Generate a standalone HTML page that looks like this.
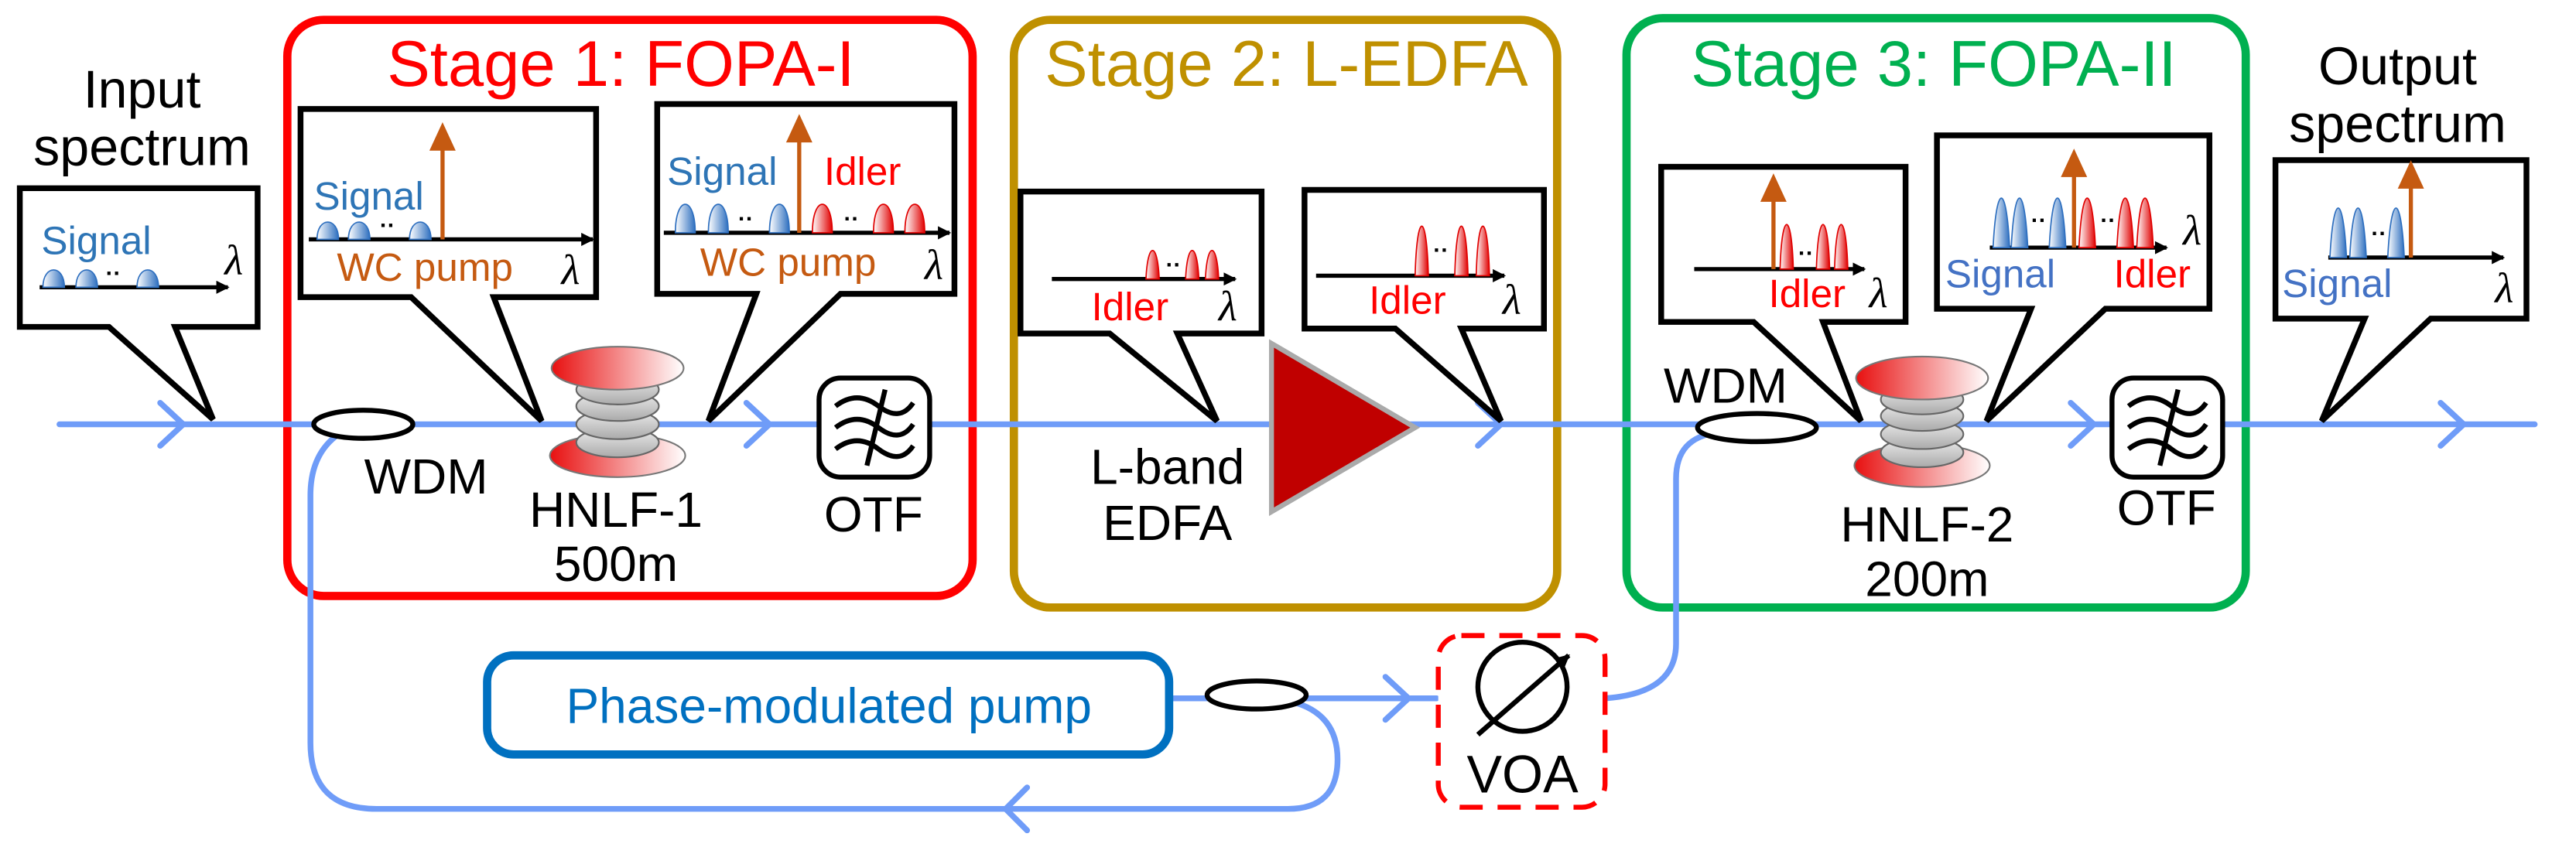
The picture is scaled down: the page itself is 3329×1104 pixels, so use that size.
<!DOCTYPE html>
<html><head><meta charset="utf-8"><style>
html,body{margin:0;padding:0;background:#fff;}
svg{display:block;}
text{font-family:"Liberation Sans",sans-serif;}
.b{fill:#2e75b6}.b2{fill:#4472c4}.o{fill:#c55a11}.r{fill:#ff0000}.k{fill:#000}
.lam{font-family:"Liberation Serif",serif;font-style:italic;}
</style></head><body>
<svg width="3329" height="1104" viewBox="0 0 1560 517.3" xmlns="http://www.w3.org/2000/svg">
<defs>
<linearGradient id="gb" x1="0" x2="1"><stop offset="0" stop-color="#fff"/><stop offset="1" stop-color="#2e6fbf"/></linearGradient>
<linearGradient id="gr" x1="0" x2="1"><stop offset="0" stop-color="#fff"/><stop offset="1" stop-color="#e00000"/></linearGradient>
<linearGradient id="gs" x1="0" x2="1"><stop offset="0" stop-color="#e81010"/><stop offset="1" stop-color="#fff"/></linearGradient>
<linearGradient id="gg" x1="0" x2="0" y1="0" y2="1"><stop offset="0" stop-color="#eee"/><stop offset="1" stop-color="#aaa"/></linearGradient>
<marker id="ak" markerWidth="8" markerHeight="8" refX="7" refY="4" orient="auto" markerUnits="userSpaceOnUse"><path d="M0,0 L8,4 L0,8 Z" fill="#000"/></marker>
</defs>

<rect x="174" y="12" width="415" height="349" rx="22" fill="none" stroke="#ff0000" stroke-width="5"/>
<rect x="614" y="12" width="329" height="356" rx="22" fill="none" stroke="#bf9000" stroke-width="5"/>
<rect x="985" y="11" width="375" height="357" rx="22" fill="none" stroke="#00b050" stroke-width="5"/>
<text x="376" y="52" font-size="39" fill="#ff0000" text-anchor="middle">Stage 1: FOPA-I</text>
<text x="779" y="52" font-size="39" fill="#bf9000" text-anchor="middle">Stage 2: L-EDFA</text>
<text x="1171" y="52" font-size="39" fill="#00b050" text-anchor="middle">Stage 3: FOPA-II</text>

<g stroke="#6f9cf8" stroke-width="3.5" fill="none" stroke-linecap="round">
<line x1="36" y1="257" x2="1535" y2="257"/>
<path d="M205,263 Q188,275 188,300 L188,450 Q188,490 228,490 L780,490 Q810,490 810,460 Q810,432 782,425"/>
<line x1="708" y1="423" x2="870" y2="423"/>
<path d="M972,423 Q1015,420 1015,390 L1015,290 Q1015,265 1040,262"/>
<path d="M97,244 L111,257 L97,270"/>
<path d="M452,244 L466,257 L452,270"/>
<path d="M895,244 L909,257 L895,270"/>
<path d="M1254,244 L1268,257 L1254,270"/>
<path d="M1478,244 L1492,257 L1478,270"/>
<path d="M839,410 L853,423 L839,436"/>
<path d="M622,477 L609,490 L622,503"/>
</g>

<ellipse cx="220" cy="257" rx="30" ry="8.5" fill="#fff" stroke="#000" stroke-width="3"/>
<ellipse cx="1064" cy="259" rx="36" ry="8.5" fill="#fff" stroke="#000" stroke-width="3"/>
<ellipse cx="761" cy="421" rx="30" ry="8.5" fill="#fff" stroke="#000" stroke-width="3"/>
<text x="258" y="299" font-size="30" class="k" text-anchor="middle">WDM</text>
<text x="1045" y="244" font-size="30" class="k" text-anchor="middle">WDM</text>

<g id="sp1">
<ellipse cx="374" cy="276" rx="41" ry="13" fill="url(#gs)" stroke="#777" stroke-width="1"/>
<g fill="url(#gg)" stroke="#666" stroke-width="1">
<ellipse cx="374" cy="268" rx="25" ry="9"/><ellipse cx="374" cy="257" rx="25" ry="9"/><ellipse cx="374" cy="246" rx="25" ry="9"/><ellipse cx="374" cy="236" rx="25" ry="9"/></g>
<ellipse cx="374" cy="223" rx="40" ry="13" fill="url(#gs)" stroke="#777" stroke-width="1"/>
</g>
<use href="#sp1" x="790" y="6"/>
<text x="373" y="319" font-size="30" class="k" text-anchor="middle">HNLF-1</text>
<text x="373" y="352" font-size="30" class="k" text-anchor="middle">500m</text>
<text x="1167" y="328" font-size="30" class="k" text-anchor="middle">HNLF-2</text>
<text x="1167" y="361" font-size="30" class="k" text-anchor="middle">200m</text>

<g fill="none" stroke="#000" stroke-width="3">
<rect x="496" y="229" width="67" height="60" rx="13" fill="#fff"/>
<path d="M506,246 Q519,236 532,246 T553,244 M506,259 Q519,249 532,259 T553,257 M506,272 Q519,262 532,272 T553,270 M536,236 L525,282"/>
<rect x="1279" y="229" width="67" height="60" rx="13" fill="#fff"/>
<path d="M1289,246 Q1302,236 1315,246 T1336,244 M1289,259 Q1302,249 1315,259 T1336,257 M1289,272 Q1302,262 1315,272 T1336,270 M1319,236 L1308,282"/>
</g>
<text x="529" y="322" font-size="30" class="k" text-anchor="middle">OTF</text>
<text x="1312" y="318" font-size="30" class="k" text-anchor="middle">OTF</text>

<polygon points="770,208 770,310 857,259" fill="#c00000" stroke="#aaa" stroke-width="3"/>
<text x="707" y="293" font-size="30" class="k" text-anchor="middle">L-band</text>
<text x="707" y="327" font-size="30" class="k" text-anchor="middle">EDFA</text>

<rect x="295" y="397" width="413" height="60" rx="16" fill="#fff" stroke="#0070c0" stroke-width="5"/>
<text x="502" y="438" font-size="30" fill="#0070c0" text-anchor="middle">Phase-modulated pump</text>

<rect x="871" y="385" width="101" height="104" rx="14" fill="#fff" stroke="#ff0000" stroke-width="3" stroke-dasharray="14,9"/>
<circle cx="922" cy="416" r="27" fill="none" stroke="#000" stroke-width="3"/>
<line x1="895" y1="445" x2="950" y2="397" stroke="#000" stroke-width="3" marker-end="url(#ak)"/>
<text x="922" y="480" font-size="32" class="k" text-anchor="middle">VOA</text>

<text x="86" y="65" font-size="32" class="k" text-anchor="middle">Input</text>
<text x="86" y="100" font-size="32" class="k" text-anchor="middle">spectrum</text>
<text x="1452" y="51" font-size="32" class="k" text-anchor="middle">Output</text>
<text x="1452" y="86" font-size="32" class="k" text-anchor="middle">spectrum</text>

<g fill="#fff" stroke="#000" stroke-width="3.5" stroke-linejoin="miter">
<polygon points="12,114 156,114 156,198 106,198 129,254 66,198 12,198"/>
<polygon points="182,66 361,66 361,180 299,180 328,255 249,180 182,180"/>
<polygon points="398,63 578,63 578,178 509,178 429,255 458,178 398,178"/>
<polygon points="618,116 764,116 764,202 713,202 737,255 672,202 618,202"/>
<polygon points="790,115 935,115 935,199 885,199 909,255 845,199 790,199"/>
<polygon points="1006,101 1154,101 1154,195 1104,195 1127,255 1062,195 1006,195"/>
<polygon points="1173,82 1338,82 1338,187 1275,187 1203,255 1230,187 1173,187"/>
<polygon points="1378,97 1530,97 1530,193 1472,193 1406,255 1432,193 1378,193"/>
</g>

<g stroke="#000" stroke-width="2.5" fill="none">
<line x1="24" y1="174" x2="138" y2="174" marker-end="url(#ak)"/>
<line x1="187" y1="145" x2="359" y2="145" marker-end="url(#ak)"/>
<line x1="402" y1="141" x2="575" y2="141" marker-end="url(#ak)"/>
<line x1="637" y1="169" x2="748" y2="169" marker-end="url(#ak)"/>
<line x1="797" y1="167" x2="911" y2="167" marker-end="url(#ak)"/>
<line x1="1026" y1="163" x2="1129" y2="163" marker-end="url(#ak)"/>
<line x1="1205" y1="150" x2="1312" y2="150" marker-end="url(#ak)"/>
<line x1="1410" y1="156" x2="1516" y2="156" marker-end="url(#ak)"/>
</g>
<g stroke="#c55a11" stroke-width="2.5" fill="#c55a11">
<line x1="268" y1="145" x2="268" y2="88"/><path d="M262,90 L268,77 L274,90Z"/>
<line x1="484" y1="141" x2="484" y2="83"/><path d="M478,85 L484,72 L490,85Z"/>
<line x1="1074" y1="163" x2="1074" y2="119"/><path d="M1068,121 L1074,108 L1080,121Z"/>
<line x1="1256" y1="150" x2="1256" y2="104"/><path d="M1250,106 L1256,93 L1262,106Z"/>
<line x1="1460" y1="156" x2="1460" y2="111"/><path d="M1454,113 L1460,100 L1466,113Z"/>
</g>
<g stroke="#2e6fbf" stroke-width="0.8" fill="url(#gb)">
<path d="M26,174 C26,160 39,160 39,174Z"/><path d="M46,174 C46,160 59,160 59,174Z"/><path d="M83,174 C83,160 96,160 96,174Z"/>
<path d="M192,145 C192,131 205,131 205,145Z"/><path d="M211,145 C211,131 224,131 224,145Z"/><path d="M248,145 C248,131 261,131 261,145Z"/>
<path d="M409,141 C409,118 421,118 421,141Z"/><path d="M429,141 C429,118 441,118 441,141Z"/><path d="M466,141 C466,118 478,118 478,141Z"/>
<path d="M1207,150 C1209,110 1215,110 1217,150Z"/><path d="M1218,150 C1220,110 1226,110 1228,150Z"/><path d="M1241,150 C1243,110 1249,110 1251,150Z"/>
<path d="M1411,156 C1413,116 1419,116 1421,156Z"/><path d="M1423,156 C1425,116 1431,116 1433,156Z"/><path d="M1446,156 C1448,116 1454,116 1456,156Z"/>
</g>
<g stroke="#e00000" stroke-width="0.8" fill="url(#gr)">
<path d="M492,141 C492,118 504,118 504,141Z"/><path d="M529,141 C529,118 541,118 541,141Z"/><path d="M548,141 C548,118 560,118 560,141Z"/>
<path d="M694,169 C695,146 701,146 702,169Z"/><path d="M718,169 C719,146 725,146 726,169Z"/><path d="M730,169 C731,146 737,146 738,169Z"/>
<path d="M857,167 C858,127 864,127 865,167Z"/><path d="M881,167 C882,127 888,127 889,167Z"/><path d="M894,167 C895,127 901,127 902,167Z"/>
<path d="M1078,163 C1079,127 1085,127 1086,163Z"/><path d="M1100,163 C1101,127 1107,127 1108,163Z"/><path d="M1111,163 C1112,127 1118,127 1119,163Z"/>
<path d="M1259,150 C1261,110 1267,110 1269,150Z"/><path d="M1282,150 C1284,110 1290,110 1292,150Z"/><path d="M1294,150 C1296,110 1302,110 1304,150Z"/>
</g>
<g class="k" font-size="14" font-weight="bold">
<text x="64" y="170">··</text><text x="230" y="141">··</text><text x="447" y="137">··</text><text x="511" y="137">··</text>
<text x="706" y="165">··</text><text x="868" y="156">··</text><text x="1089" y="158">··</text><text x="1230" y="138">··</text><text x="1272" y="138">··</text><text x="1436" y="146">··</text>
</g>
<text x="25" y="154" font-size="24" class="b">Signal</text>
<text x="136" y="166" font-size="26" class="k lam">λ</text>
<text x="190" y="127" font-size="24" class="b">Signal</text>
<text x="204" y="170" font-size="24" class="o">WC pump</text>
<text x="340" y="172" font-size="26" class="k lam">λ</text>
<text x="404" y="112" font-size="24" class="b">Signal</text>
<text x="499" y="112" font-size="24" class="r">Idler</text>
<text x="424" y="167" font-size="24" class="o">WC pump</text>
<text x="560" y="169" font-size="26" class="k lam">λ</text>
<text x="661" y="194" font-size="24" class="r">Idler</text>
<text x="738" y="194" font-size="26" class="k lam">λ</text>
<text x="829" y="190" font-size="24" class="r">Idler</text>
<text x="910" y="190" font-size="26" class="k lam">λ</text>
<text x="1071" y="186" font-size="24" class="r">Idler</text>
<text x="1132" y="186" font-size="26" class="k lam">λ</text>
<text x="1178" y="174" font-size="24" class="b2">Signal</text>
<text x="1280" y="174" font-size="24" class="r">Idler</text>
<text x="1322" y="148" font-size="26" class="k lam">λ</text>
<text x="1382" y="180" font-size="24" class="b2">Signal</text>
<text x="1511" y="183" font-size="26" class="k lam">λ</text>
</svg>
</body></html>
